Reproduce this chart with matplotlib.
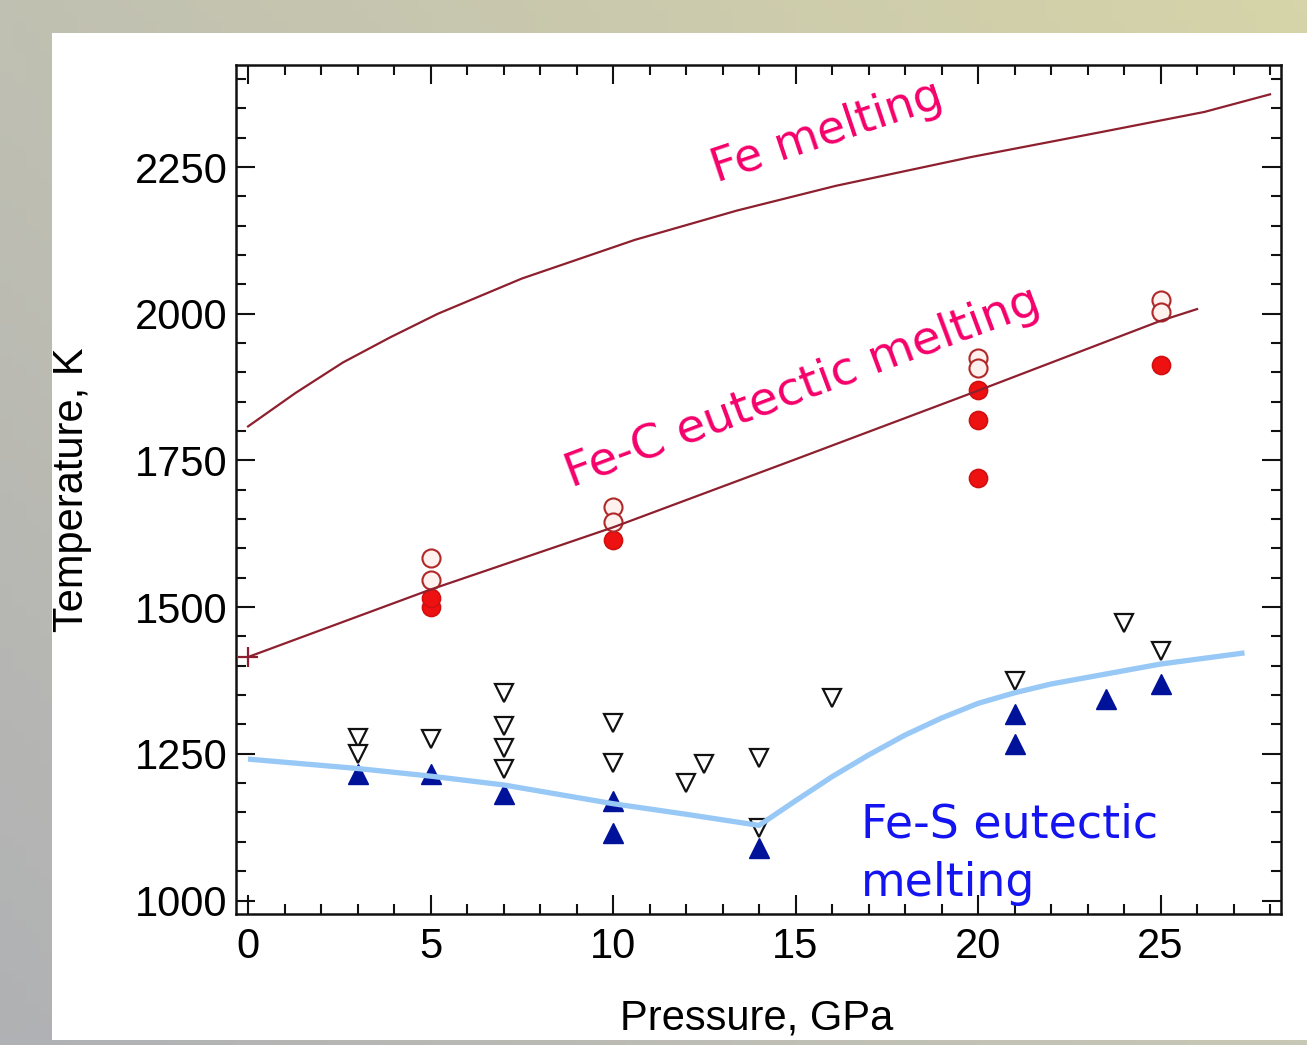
import numpy as np
import matplotlib
matplotlib.use('Agg')
import matplotlib.pyplot as plt
from matplotlib.patches import Rectangle

# ---- data ----
# Fe melting curve
fe_p = [0, 1.3, 2.6, 3.9, 5.2, 7.5, 10.6, 13.4, 16.1, 19.8, 23.4, 26.2, 28.0]
fe_t = [1808, 1865, 1917, 1960, 2000, 2060, 2126, 2176, 2218, 2267, 2310, 2344, 2374]

# Fe-C eutectic melting curve
fec_p = [0, 5, 10, 15, 20, 25, 26]
fec_t = [1415, 1530, 1636, 1752, 1869, 1988, 2008]

# Fe-S eutectic melting curve
fes_p = [0, 3, 5, 7, 10, 12, 14, 15, 16, 17, 18, 19, 20, 21, 22, 23.5, 25, 27.3]
fes_t = [1241, 1225, 1212, 1197, 1165, 1147, 1128, 1170, 1211, 1248, 1282, 1311, 1336, 1354, 1369, 1386, 1403, 1422]

# Fe-C experiments
fec_open_p = [5, 5, 10, 10, 20, 20, 25, 25]
fec_open_t = [1583, 1546, 1670, 1645, 1925, 1908, 2023, 2003]
fec_solid_p = [5, 5, 10, 20, 20, 20, 25]
fec_solid_t = [1500, 1515, 1614, 1870, 1819, 1720, 1913]

# Fe-S experiments
fes_open_p = [3, 3, 5, 7, 7, 7, 7, 10, 10, 12, 12.5, 14, 14, 16, 21, 24, 25]
fes_open_t = [1277, 1250, 1276, 1354, 1298, 1260, 1224, 1303, 1235, 1201, 1233, 1243, 1124, 1345, 1374, 1473, 1426]
fes_solid_p = [3, 5, 7, 10, 10, 14, 21, 21, 23.5, 25]
fes_solid_t = [1216, 1216, 1182, 1170, 1115, 1090, 1318, 1267, 1344, 1369]

x_ticks = [0, 5, 10, 15, 20, 25]
y_ticks = [1000, 1250, 1500, 1750, 2000, 2250]

W, H = 1307, 1045
fig = plt.figure(figsize=(W / 100, H / 100), dpi=100)

# ---- slide background ----
bg = fig.add_axes([0, 0, 1, 1])
bg.set_xlim(0, 1)
bg.set_ylim(0, 1)
bg.axis('off')
tl = np.array([192, 192, 178]); tr = np.array([214, 212, 168])
bl = np.array([176, 177, 180]); br = np.array([200, 200, 182])
yy, xx = np.mgrid[0:1:100j, 0:1:100j]
img = ((1 - yy)[..., None] * ((1 - xx)[..., None] * tl + xx[..., None] * tr)
       + yy[..., None] * ((1 - xx)[..., None] * bl + xx[..., None] * br)) / 255.0
bg.imshow(img, extent=[0, 1, 0, 1], aspect='auto', origin='upper', zorder=0)
bg.add_patch(Rectangle((52 / W, 1 - 1040 / H), 1.0, (1040 - 33) / H,
                       facecolor='white', edgecolor='none', zorder=1))

# ---- main axes ----
ax = fig.add_axes([236 / W, 1 - 914 / H, (1281 - 236) / W, (914 - 65) / H])
ax.set_facecolor('white')
ax.set_xlim(-0.33, 28.3)
ax.set_ylim(977, 2424)

red_line = '#8e1f2e'
ax.plot(fe_p, fe_t, color=red_line, lw=1.6, zorder=3)
ax.plot(fec_p, fec_t, color=red_line, lw=1.6, zorder=3)
ax.plot(fec_p[:1], fec_t[:1], marker='+', ms=14, mew=1.6, color=red_line, zorder=3)

ax.plot(fec_solid_p, fec_solid_t, 'o', ms=13, mfc='#ee1111', mec='#d01010', mew=1.2, zorder=2)
ax.plot(fec_open_p, fec_open_t, 'o', ms=13, mfc='#fff2ee', mec='#b02828', mew=1.5, zorder=2)

ax.plot(fes_open_p, fes_open_t, 'v', ms=13, mfc='white', mec='#111111', mew=1.6, zorder=2)
ax.plot(fes_solid_p, fes_solid_t, '^', ms=14, mfc='#00119a', mec='#00119a', mew=1.0, zorder=2)
ax.plot(fes_p, fes_t, color='#98c8f6', lw=3.8, solid_capstyle='butt', zorder=4)

# ---- labels on curves ----
pink = '#f5006a'
ax.text(12.85, 2224, 'Fe melting', color=pink, fontsize=33, family='DejaVu Sans',
        rotation=18.5, rotation_mode='anchor', ha='left', va='baseline', zorder=5)
ax.text(8.85, 1704, 'Fe-C eutectic melting', color=pink, fontsize=34, family='DejaVu Sans',
        rotation=20.5, rotation_mode='anchor', ha='left', va='baseline', zorder=5)
ax.text(16.78, 1108, 'Fe-S eutectic', color='#1414f0', fontsize=33, family='DejaVu Sans',
        ha='left', va='baseline', zorder=5)
ax.text(16.78, 1008, 'melting', color='#1414f0', fontsize=33, family='DejaVu Sans',
        ha='left', va='baseline', zorder=5)

# ---- ticks and spines ----
ax.set_xticks(x_ticks)
ax.set_xticks(np.arange(0, 29, 1), minor=True)
ax.set_yticks(y_ticks)
ax.set_yticks(np.arange(1000, 2425, 50), minor=True)
ax.set_xticklabels([str(v) for v in x_ticks])
ax.set_yticklabels([str(v) for v in y_ticks])
ax.tick_params(which='both', direction='in', top=True, right=True, color='#111111')
ax.tick_params(which='major', length=14, width=1.5, labelsize=30)
ax.tick_params(which='minor', length=7, width=1.5)
ax.tick_params(axis='x', which='major', pad=9)
ax.tick_params(axis='y', which='major', pad=6)
for lab in ax.get_xticklabels() + ax.get_yticklabels():
    lab.set_fontfamily('Liberation Sans')
for sp in ax.spines.values():
    sp.set_linewidth(1.8)
    sp.set_color('#111111')

ax.set_xlabel('Pressure, GPa', fontsize=30, family='Liberation Sans')
ax.xaxis.set_label_coords(0.4986, -0.1225)
ax.xaxis.label.set_va('center')
ax.set_ylabel('Temperature, K', fontsize=30, family='Liberation Sans')
ax.yaxis.set_label_coords(-0.157, 0.4994)
ax.yaxis.label.set_va('center')

fig.savefig('out.png', dpi=100)
